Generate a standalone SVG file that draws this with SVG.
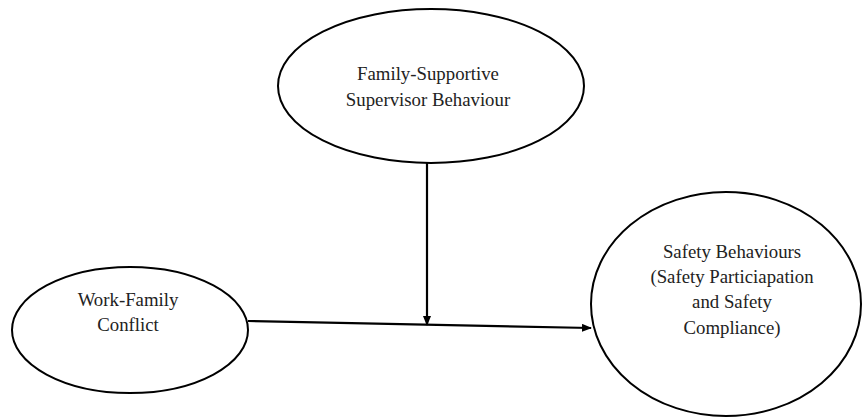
<svg xmlns="http://www.w3.org/2000/svg" width="865" height="419" viewBox="0 0 865 419">
<style>
.n{fill:#fff;stroke:#000;stroke-width:2}
.t{font-family:'Liberation Serif','Times New Roman',serif;font-size:18.8px;fill:#222;text-anchor:middle}
.c{stroke:#000;stroke-width:2.2;fill:none}
</style>
<defs>
<marker id="ah" markerWidth="10" markerHeight="8" refX="9" refY="4" orient="auto" markerUnits="userSpaceOnUse">
<path d="M0,0 L10,4 L0,8 Z" fill="#000"/>
</marker>
</defs>
<rect width="865" height="419" fill="#fff"/>
<g id="connectors">
<line class="c" x1="248" y1="321" x2="591" y2="328" marker-end="url(#ah)"/>
<line class="c" x1="427" y1="163" x2="427" y2="325" marker-end="url(#ah)"/>
</g>
<g id="fssb">
<ellipse class="n" cx="431" cy="86" rx="153" ry="77"/>
<text class="t" x="428" y="80">Family-Supportive</text>
<text class="t" x="428" y="106">Supervisor Behaviour</text>
</g>
<g id="wfc">
<ellipse class="n" cx="130" cy="330" rx="118" ry="63"/>
<text class="t" x="128" y="306">Work-Family</text>
<text class="t" x="128" y="331">Conflict</text>
</g>
<g id="sb">
<ellipse class="n" cx="726" cy="304" rx="135" ry="112"/>
<text class="t" x="732" y="258">Safety Behaviours</text>
<text class="t" x="732" y="283">(Safety Particiapation</text>
<text class="t" x="732" y="308">and Safety</text>
<text class="t" x="732" y="334">Compliance)</text>
</g>
</svg>
